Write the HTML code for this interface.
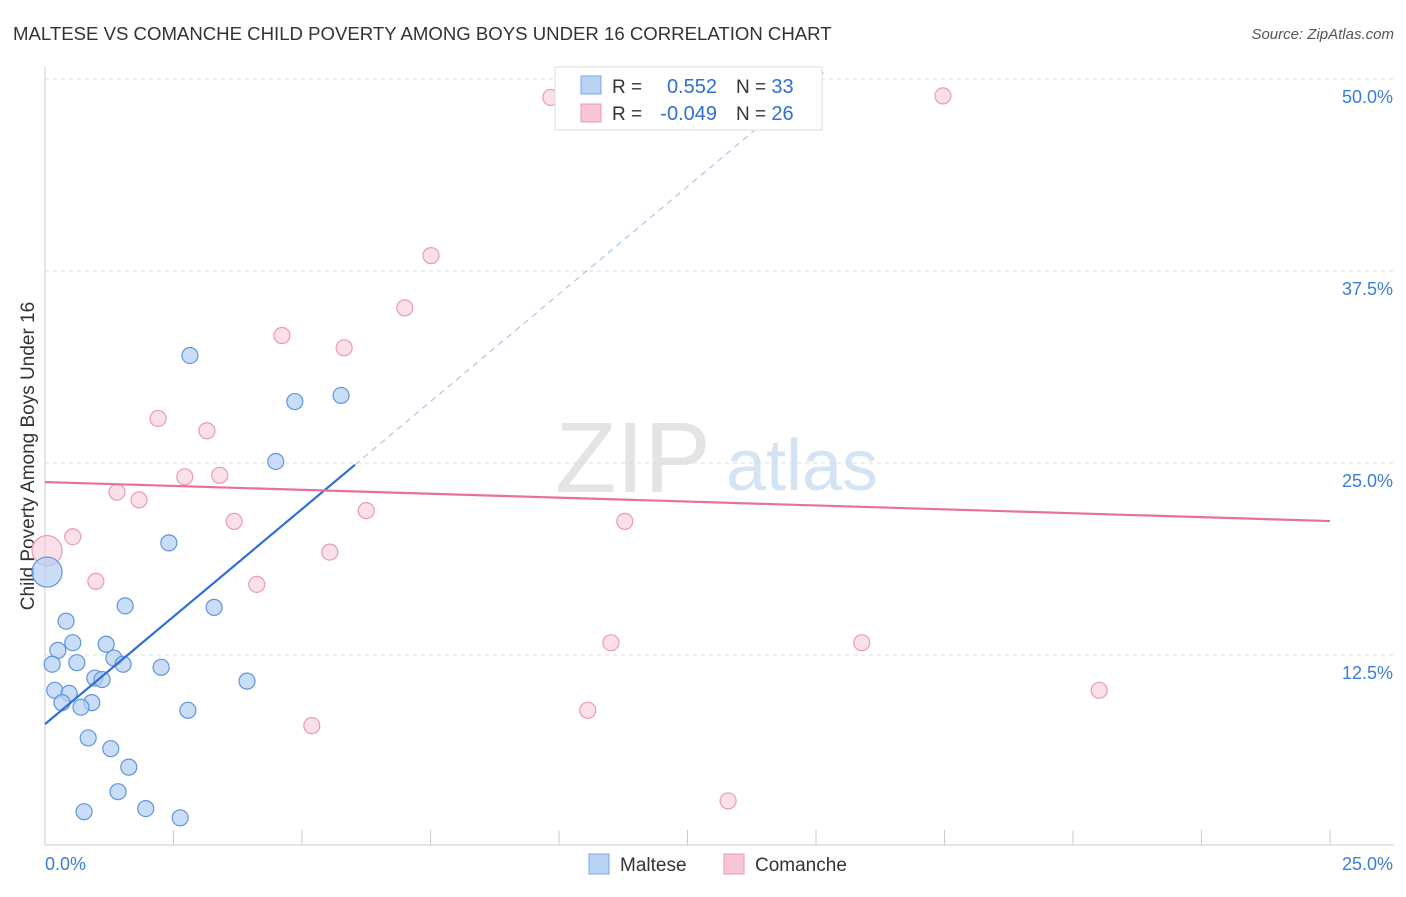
<!DOCTYPE html>
<html><head><meta charset="utf-8"><style>
body{margin:0;background:#fff;font-family:"Liberation Sans",sans-serif}
svg text{font-family:"Liberation Sans",sans-serif}
</style></head><body>
<svg width="1406" height="892" id="c">
<text x="13" y="40" font-size="18.6" fill="#333">MALTESE VS COMANCHE CHILD POVERTY AMONG BOYS UNDER 16 CORRELATION CHART</text>
<text x="1394" y="39" font-size="15" fill="#555" font-style="italic" text-anchor="end">Source: ZipAtlas.com</text>
<text x="34" y="456" font-size="19" fill="#333" text-anchor="middle" transform="rotate(-90 34 456)">Child Poverty Among Boys Under 16</text>
<g><text x="633" y="492" font-size="100" fill="#e4e4e4" text-anchor="middle" font-family="Liberation Serif">ZIP</text><text x="802" y="490" font-size="72" fill="#d5e4f3" text-anchor="middle">atlas</text></g>
<g id="grid"></g><g id="marks"></g>
<g>
<rect x="555" y="67" width="267" height="63" fill="#fff" stroke="#ddd"/>
<rect x="581" y="76" width="20" height="18" fill="#b9d3f5" stroke="#7aa7e0"/>
<rect x="581" y="104" width="20" height="18" fill="#f9c6d6" stroke="#eb9ab4"/>
<text x="612" y="93" font-size="19" fill="#333">R =</text>
<text x="717" y="93" font-size="20" fill="#2f6fd6" text-anchor="end">0.552</text>
<text x="736" y="93" font-size="19" fill="#333">N = <tspan fill="#2f6fd6" font-size="20">33</tspan></text>
<text x="612" y="120" font-size="19" fill="#333">R =</text>
<text x="717" y="120" font-size="20" fill="#2f6fd6" text-anchor="end">-0.049</text>
<text x="736" y="120" font-size="19" fill="#333">N = <tspan fill="#2f6fd6" font-size="20">26</tspan></text>
</g>
<g>
<rect x="589" y="854" width="20" height="20" fill="#b9d3f5" stroke="#7aa7e0"/>
<text x="620" y="871" font-size="19" fill="#333">Maltese</text>
<rect x="724" y="854" width="20" height="20" fill="#f9c6d6" stroke="#eb9ab4"/>
<text x="755" y="871" font-size="19" fill="#333">Comanche</text>
</g>
</svg>
<script>
const yTicks=[12.5,25,37.5,50];
const yTickLabels=["12.5%","25.0%","37.5%","50.0%"];
const maltX=[0.04,2.82,4.86,5.76,4.49,2.41,1.56,3.29,0.41,0.54,1.19,0.25,1.34,0.14,0.62,1.52,2.26,0.97,1.11,3.93,0.19,0.47,0.33,0.91,0.70,2.78,0.84,1.28,1.63,1.42,0.76,1.96,2.63];
const maltY=[17.9,32.0,29.0,29.4,25.1,19.8,15.7,15.6,14.7,13.3,13.2,12.8,12.3,11.9,12.0,11.9,11.7,11.0,10.9,10.8,10.2,10.0,9.4,9.4,9.1,8.9,7.1,6.4,5.2,3.6,2.3,2.5,1.9];
const comX=[0.04,9.84,17.47,7.51,7.00,4.61,5.82,2.20,3.15,2.72,3.40,1.40,1.83,6.25,3.68,11.28,0.54,5.54,0.99,4.12,11.01,15.89,20.51,10.56,5.19,13.29];
const comY=[19.3,48.8,48.9,38.5,35.1,33.3,32.5,27.9,27.1,24.1,24.2,23.1,22.6,21.9,21.2,21.2,20.2,19.2,17.3,17.1,13.3,13.3,10.2,8.9,7.9,3.0];
const maltTrend=[8.0,2.8];
const comTrend=[23.76,21.22];
const X=v=>45+v/25*1285, Y=v=>847-v*15.36;
const NS="http://www.w3.org/2000/svg";
function mk(t,a,p){const e=document.createElementNS(NS,t);for(const k in a)e.setAttribute(k,a[k]);p.appendChild(e);return e;}
const g=document.getElementById('grid'),m=document.getElementById('marks');
yTicks.forEach((t,i)=>{
 const l=mk('line',{x1:45,x2:1394,y1:Y(t),y2:Y(t),stroke:'#ddd','stroke-dasharray':'4,4'},g);
 
 
 const tx=mk('text',{x:1393,y:Y(t)+24,'font-size':18,fill:'#3b7dd8','text-anchor':'end'},g);
 tx.textContent=yTickLabels[i];
 
 
});
mk('line',{x1:45,x2:45,y1:67,y2:845,stroke:'#ccc'},g);
mk('line',{x1:45,x2:1394,y1:845,y2:845,stroke:'#ccc'},g);
for(let i=0;i<=10;i++){const t=mk('line',{x1:X(i*2.5),x2:X(i*2.5),y1:830,y2:845,stroke:'#ccc'},g);
 
 }
const xl=mk('text',{x:45,y:870,'font-size':18,fill:'#3b7dd8'},g);xl.textContent='0.0%';


const xr=mk('text',{x:1393,y:870,'font-size':18,fill:'#3b7dd8','text-anchor':'end'},g);xr.textContent='25.0%';


comX.forEach((x,i)=>{const c=mk('circle',{cx:X(x),cy:Y(comY[i]),r:i==0?15:8,fill:'#f9c6d6','fill-opacity':0.55,stroke:'#eb9ab4','stroke-width':1.2},m);
 
 });
maltX.forEach((x,i)=>{const c=mk('circle',{cx:X(x),cy:Y(maltY[i]),r:i==0?15:8,fill:'#b3cff3','fill-opacity':0.7,stroke:'#5f95dc','stroke-width':1.2},m);
 
 });
const xe=(50.5-maltTrend[0])/maltTrend[1];
const d=mk('line',{x1:X(6.03),y1:Y(maltTrend[0]+maltTrend[1]*6.03),x2:X(xe),y2:Y(50.5),stroke:'#9bbce8','stroke-dasharray':'6,5'},m);


const s=mk('line',{x1:X(0),y1:Y(maltTrend[0]),x2:X(6.03),y2:Y(maltTrend[0]+maltTrend[1]*6.03),stroke:'#2f6fd6','stroke-width':2.2},m);


const p=mk('line',{x1:X(0),y1:Y(comTrend[0]),x2:X(25),y2:Y(comTrend[1]),stroke:'#e8709a','stroke-width':2.2},m);


</script>
</body></html>
